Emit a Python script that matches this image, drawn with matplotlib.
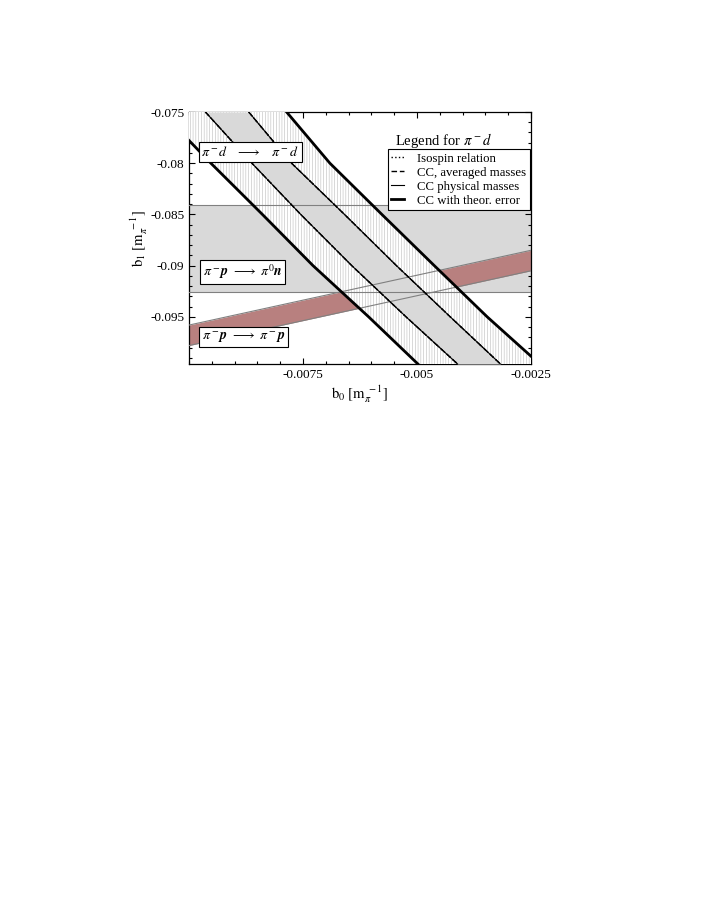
import matplotlib
matplotlib.use("Agg")
import matplotlib.pyplot as plt
from matplotlib.lines import Line2D
from matplotlib.ticker import MultipleLocator, FixedLocator, FuncFormatter
import numpy as np

# ── data ──────────────────────────────────────────────────────────────────────
# pi- d band: b0 values of each curve at the listed b1 levels
b1_levels = [-0.075, -0.080, -0.085, -0.090, -0.095, -0.0996]
cc_err_lo = [-0.01060, -0.00952, -0.00839, -0.00728, -0.00606, -0.00498]
cc_lo = [-0.00964, -0.00862, -0.00755, -0.00643, -0.00524, -0.00411]
cc_hi = [-0.00869, -0.00775, -0.00659, -0.00545, -0.00427, -0.00317]
cc_err_hi = [-0.00786, -0.00691, -0.00577, -0.00462, -0.00346, -0.00231]

# pi- p -> pi0 n: horizontal band in b1
cex_lo, cex_hi = -0.0926, -0.0841

# pi- p -> pi- p: straight band
el_b0 = [-0.0100, -0.0025]
el_hi = [-0.0958, -0.0885]
el_lo = [-0.0978, -0.0905]

x_ticks = [-0.0075, -0.005, -0.0025]
y_ticks = [-0.075, -0.080, -0.085, -0.090, -0.095]

# ── style ─────────────────────────────────────────────────────────────────────
plt.rcParams["font.family"] = "serif"
plt.rcParams["font.serif"] = ["Liberation Serif", "DejaVu Serif"]
plt.rcParams["mathtext.fontset"] = "stix"
plt.rcParams["axes.unicode_minus"] = False
plt.rcParams["hatch.linewidth"] = 0.4

gray = "#d9d9d9"
edge_gray = "#808080"
red = "#b8807f"

fig = plt.figure(figsize=(7.08, 9.17), dpi=100)
ax = fig.add_axes([189 / 708, 1 - 364 / 917, 342 / 708, 252 / 917])

# horizontal pi- p -> pi0 n band
ax.axhspan(cex_lo, cex_hi, color=gray, lw=0, zorder=1)
ax.axhline(cex_lo, color=edge_gray, lw=0.8, zorder=5)
ax.axhline(cex_hi, color=edge_gray, lw=0.8, zorder=5)

# pi- p -> pi- p band
ax.fill_between(el_b0, el_lo, el_hi, color=red, lw=0, zorder=2)
ax.plot(el_b0, el_hi, color=edge_gray, lw=0.8, zorder=5)
ax.plot(el_b0, el_lo, color=edge_gray, lw=0.8, zorder=5)

# pi- d band with theoretical error (hatched) and inner band (gray)
ax.fill_betweenx(b1_levels, cc_err_lo, cc_err_hi, facecolor="white",
                 edgecolor="#bcbcbc", hatch="||||||", lw=0, zorder=3)
ax.fill_betweenx(b1_levels, cc_lo, cc_hi, color=gray, lw=0, zorder=4)

for curve in (cc_lo, cc_hi):
    ax.plot(curve, b1_levels, color="black", lw=0.8, zorder=6)
    ax.plot(curve, b1_levels, color="black", lw=1.0, ls=(0, (4, 2)), zorder=6)
    ax.plot(curve, b1_levels, color="black", lw=1.0, ls=":", zorder=6)
for curve in (cc_err_lo, cc_err_hi):
    ax.plot(curve, b1_levels, color="black", lw=2.0, zorder=6)

# ── labels in boxes ──────────────────────────────────────────────────────────
box = dict(boxstyle="square,pad=0.2", fc="white", ec="black", lw=0.8)
ax.text(-0.008657, -0.07888, r"$\pi^- d\quad\longrightarrow\quad\pi^- d$",
        ha="center", va="center", fontsize=10, bbox=box, zorder=8)
ax.text(-0.008828, -0.09060,
        r"$\boldsymbol{\pi^- p}\ \longrightarrow\ \boldsymbol{\pi^0 n}$",
        ha="center", va="center", fontsize=10, bbox=box, zorder=8)
ax.text(-0.00881, -0.09698,
        r"$\boldsymbol{\pi^- p}\ \longrightarrow\ \boldsymbol{\pi^- p}$",
        ha="center", va="center", fontsize=10, bbox=box, zorder=8)

# ── axes ─────────────────────────────────────────────────────────────────────
ax.set_xlim(-0.01, -0.0025)
ax.set_ylim(-0.0996, -0.075)
ax.xaxis.set_major_locator(FixedLocator(x_ticks))
ax.yaxis.set_major_locator(FixedLocator(y_ticks))
ax.xaxis.set_minor_locator(MultipleLocator(0.0005))
ax.yaxis.set_minor_locator(MultipleLocator(0.001))
fmt = FuncFormatter(lambda v, pos: "%g" % v)
ax.xaxis.set_major_formatter(fmt)
ax.yaxis.set_major_formatter(fmt)
ax.tick_params(which="both", direction="in", top=True, right=True,
               labelsize=9.5, width=0.8)
ax.tick_params(which="major", length=4.3, pad=3.5)
ax.tick_params(which="minor", length=2.2)
for s in ax.spines.values():
    s.set_linewidth(0.9)

ax.set_xlabel(r"$\mathrm{b}_0\ [\mathrm{m}_\pi^{\ -1}]$", fontsize=10.5, labelpad=2)
ax.set_ylabel(r"$\mathrm{b}_1\ [\mathrm{m}_\pi^{\ -1}]$", fontsize=10.5, labelpad=0)

# ── legend ───────────────────────────────────────────────────────────────────
handles = [
    Line2D([], [], color="black", lw=1.0, ls=":"),
    Line2D([], [], color="black", lw=1.0, ls=(0, (4, 2))),
    Line2D([], [], color="black", lw=0.8),
    Line2D([], [], color="black", lw=2.0),
]
labels = ["Isospin relation", "CC, averaged masses", "CC physical masses",
          "CC with theor. error"]
leg = fig.legend(handles, labels, loc="upper right",
                 bbox_to_anchor=(530 / 708, 1 - 149 / 917),
                 fontsize=9.2, frameon=True, fancybox=False, framealpha=1,
                 edgecolor="black", handlelength=1.0, handletextpad=1.0,
                 labelspacing=0.15, borderpad=0.3, borderaxespad=0)
leg.get_frame().set_linewidth(0.8)
fig.text(395 / 708, 1 - 141 / 917, r"Legend for $\pi^- d$", fontsize=10.5,
         ha="left", va="center")

fig.savefig("out.png", dpi=100)
